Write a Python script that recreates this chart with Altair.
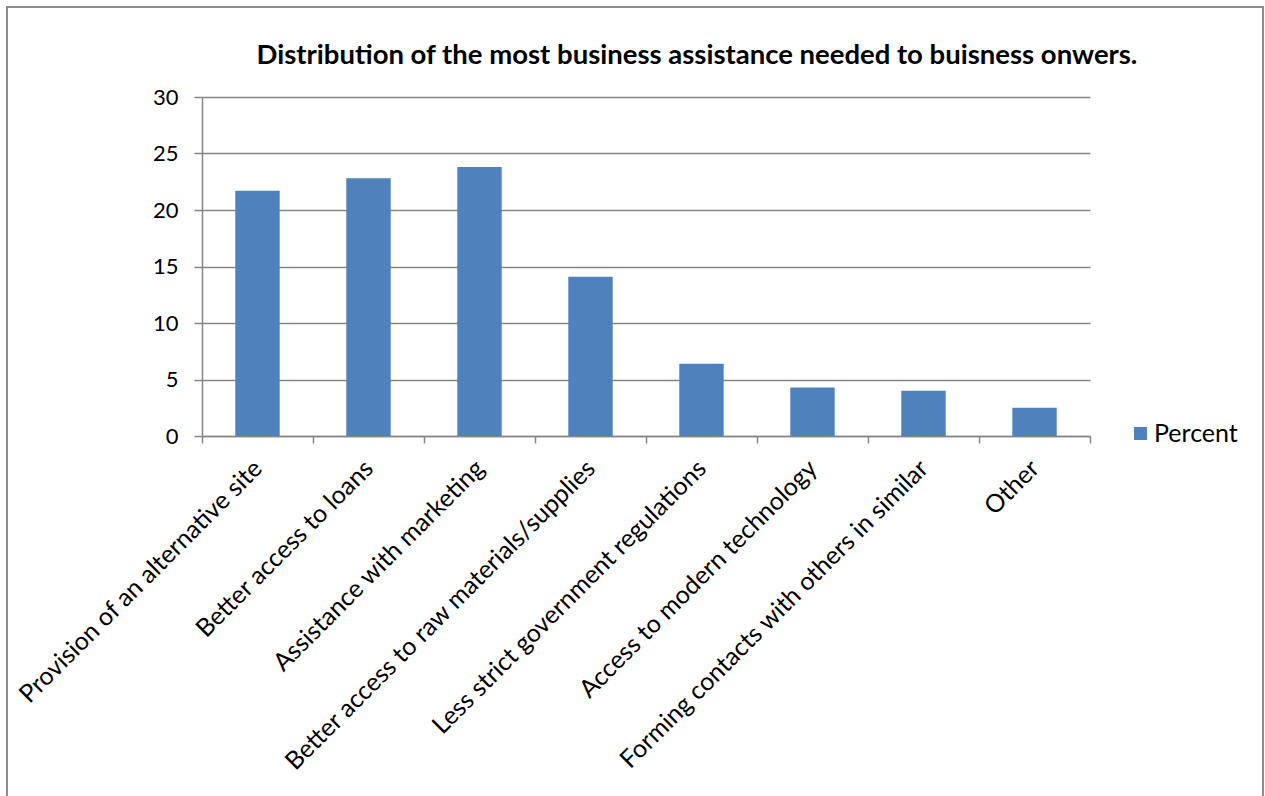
import altair as alt
import pandas as pd

categories = [
    "Provision of an alternative site",
    "Better access to loans",
    "Assistance with marketing",
    "Better access to raw materials/supplies",
    "Less strict government regulations",
    "Access to modern technology",
    "Forming contacts with others in similar",
    "Other",
]
percent = [21.7, 22.8, 23.8, 14.1, 6.4, 4.3, 4.0, 2.5]
series_name = "Percent"
y_ticks = [0, 5, 10, 15, 20, 25, 30]
chart_title = "Distribution of the most business assistance needed to buisness onwers."

df = pd.DataFrame({
    "category": categories,
    "value": percent,
    "series": [series_name] * len(categories),
})

FONT = "Lato"
GRAY = "#868686"
BLUE = "#4F81BD"

bars = alt.Chart(df).mark_bar(width=alt.RelativeBandSize(0.4)).encode(
    x=alt.X(
        "category:N", sort=categories, title=None,
        scale=alt.Scale(paddingInner=0, paddingOuter=0),
        axis=alt.Axis(
            labelAngle=-45, labelAlign="right", labelBaseline="middle",
            labelPadding=21, labelFontSize=25, labelFont=FONT,
            labelColor="black", labelLimit=700, tickBand="extent",
            tickSize=7, tickColor=GRAY, tickWidth=1.5, domainColor=GRAY,
            domainWidth=1.5, grid=False,
        ),
    ),
    y=alt.Y(
        "value:Q", title=None,
        scale=alt.Scale(domain=[0, 30], nice=False),
        axis=alt.Axis(
            values=y_ticks, labelFontSize=22, labelFont=FONT,
            labelColor="black", labelPadding=16, tickSize=8,
            tickColor=GRAY, tickWidth=1.5, domainColor=GRAY, domainWidth=1.5,
            gridColor=GRAY, gridWidth=1.5,
        ),
    ),
    color=alt.Color(
        "series:N", scale=alt.Scale(range=[BLUE]),
        legend=alt.Legend(
            title=None, orient="none", legendX=926, legendY=324,
            symbolType="square", symbolSize=169, symbolStrokeWidth=0,
            labelOffset=1, labelFontSize=25, labelFont=FONT,
            labelColor="black",
        ),
    ),
)

frame = alt.Chart(pd.DataFrame({"a": [0]})).mark_rect(
    fill="transparent", stroke="#8c8c8c", strokeWidth=2
).encode(
    x=alt.value(-195), x2=alt.value(1061), y=alt.value(-90), y2=alt.value(720)
)

chart = alt.layer(frame, bars).properties(
    width=888,
    height=339,
    padding={"left": 6, "top": 6, "right": 0, "bottom": 0},
    title=alt.TitleParams(
        text=chart_title, font=FONT, fontSize=27.5, fontWeight="bold",
        anchor="middle", frame="group", offset=0, dx=51, dy=63, color="black",
    ),
).configure_view(stroke=None)

chart.save("out.html", embed_options={"renderer": "svg", "actions": False})
